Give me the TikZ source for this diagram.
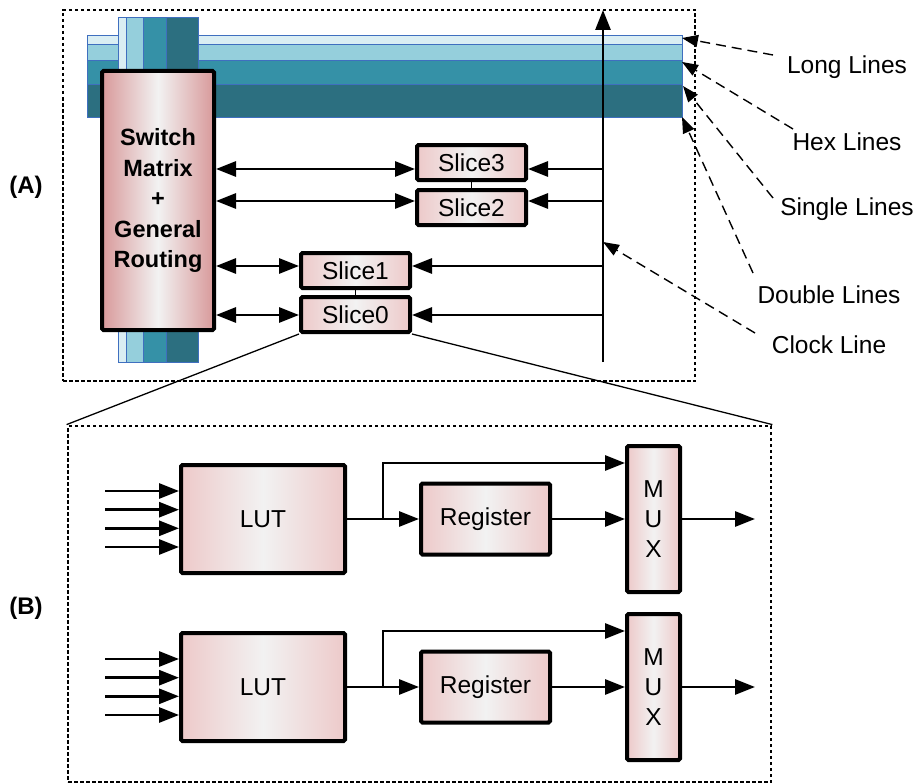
\documentclass[tikz,border=0pt]{standalone}
\usepackage{fontspec}
\setmainfont{Liberation Sans}
\usetikzlibrary{arrows.meta,positioning}

\definecolor{wireA}{HTML}{DAEEF3}
\definecolor{wireB}{HTML}{95CFDC}
\definecolor{wireC}{HTML}{3591A7}
\definecolor{wireD}{HTML}{2C6F80}
\definecolor{wireEdge}{HTML}{3F6FBF}
\definecolor{smEdge}{HTML}{D8999A}
\definecolor{blkEdge}{HTML}{EDC9C9}
\definecolor{blkMid}{HTML}{F2F2F2}

\tikzset{
  wire/.style={draw=wireEdge, line width=1pt},
  blk/.style={draw=black, line width=4pt, rounded corners=1.5pt, inner sep=0pt,
    left color=blkEdge, right color=blkEdge, middle color=blkMid,
    font=\fontsize{24.5}{28}\selectfont},
  smblk/.style={blk, left color=smEdge, right color=smEdge, middle color=blkMid},
  zone/.style={draw=black, line width=2.8pt, dash pattern=on 3.5pt off 2.5pt, inner sep=0pt},
  line/.style={line width=2.8pt},
  arr/.style={line, -{Triangle[length=20pt,width=15pt]}},
  dbl/.style={line, {Triangle[length=20pt,width=15pt]}-{Triangle[length=20pt,width=15pt]}},
  callout/.style={line width=1.4pt, dash pattern=on 10pt off 6pt, -{Triangle[length=16pt,width=12pt]}},
  lbl/.style={font=\fontsize{24.5}{28}\selectfont},
  tag/.style={font=\bfseries\fontsize{24}{28}\selectfont}
}

\begin{document}
\begin{tikzpicture}[x=1pt,y=-1pt]
    \useasboundingbox (0,0) rectangle (918,784);

    % dotted frames
    \node[zone, minimum width=632pt, minimum height=371pt] (zA) at (379,195.5) {};
    \node[zone, minimum width=703pt, minimum height=356pt] (zB) at (419.5,604) {};
    \node[tag] (tA) at (26,187) {(A)};
    \node[tag] (tB) at (26,608) {(B)};

    % routing wires (A)
    \filldraw[wire, fill=wireA] (87,36) rectangle (682,45);
    \filldraw[wire, fill=wireB] (87,45) rectangle (682,61);
    \filldraw[wire, fill=wireC] (87,61) rectangle (682,84);
    \filldraw[wire, fill=wireD] (87,84) rectangle (682,117);
    \filldraw[wire, fill=wireA] (118,18) rectangle (126,362);
    \filldraw[wire, fill=wireB] (126,18) rectangle (143,362);
    \filldraw[wire, fill=wireC] (143,18) rectangle (166,362);
    \filldraw[wire, fill=wireD] (166,18) rectangle (198,362);

    \node[smblk, minimum width=112pt, minimum height=259pt, align=center,
        font=\bfseries\fontsize{23.5}{30.5}\selectfont] (sm) at (158,200.5)
        {Switch\\Matrix\\+\\General\\Routing};

    % slices
    \node[blk, minimum width=109pt, minimum height=35pt] (s3) at (471.5,162.5) {Slice3};
    \node[blk, minimum width=109pt, minimum height=35pt] (s2) [below=6pt of s3] {Slice2};
    \node[blk, minimum width=109pt, minimum height=35pt] (s1) at (355.5,270.5) {Slice1};
    \node[blk, minimum width=109pt, minimum height=35pt] (s0) [below=5pt of s1] {Slice0};
    \draw[line width=1pt] (s3.south) -- (s2.north);
    \draw[line width=1pt] (s1.south) -- (s0.north);

    % clock line
    \coordinate (clkb) at (603,362);
    \coordinate (clkt) at (603,10);
    \draw[arr] (clkb) -- (clkt);

    \coordinate (r3) at (0,169);
    \coordinate (r2) at (0,201);
    \coordinate (r1) at (0,266);
    \coordinate (r0) at (0,315);
    \draw[dbl] (sm.east |- r3) -- (s3.west |- r3);
    \draw[dbl] (sm.east |- r2) -- (s2.west |- r2);
    \draw[dbl] (sm.east |- r1) -- (s1.west |- r1);
    \draw[dbl] (sm.east |- r0) -- (s0.west |- r0);
    \draw[arr] (clkb |- r3) -- (s3.east |- r3);
    \draw[arr] (clkb |- r2) -- (s2.east |- r2);
    \draw[arr] (clkb |- r1) -- (s1.east |- r1);
    \draw[arr] (clkb |- r0) -- (s0.east |- r0);

    % callouts
    \node[lbl] (lLong) at (847,67) {Long Lines};
    \node[lbl] (lHex) at (847,142) {Hex Lines};
    \node[lbl] (lSingle) at (847,209) {Single Lines};
    \node[lbl] (lDouble) at (829,295) {Double Lines};
    \node[lbl] (lClock) at (829,345) {Clock Line};
    \coordinate (aLong) at (773,55);
    \coordinate (aHex) at (793,129);
    \coordinate (aSingle) at (773,198);
    \coordinate (aDouble) at (753,273);
    \coordinate (aClock) at (755,333);
    \draw[callout] (aLong) -- (682,38);
    \draw[callout] (aHex) -- (682,62);
    \draw[callout] (aSingle) -- (683,86);
    \draw[callout] (aDouble) -- (682,117);
    \draw[callout] (aClock) -- (clkb |- 0,242);

    % zoom
    \draw[line width=1.3pt] (s0.south west) -- (zB.north west);
    \draw[line width=1.3pt] (s0.south east) -- (zB.north east);

    % slice detail (B), upper half
    \node[blk, minimum width=164pt, minimum height=108pt] (lut0) at (263,519) {LUT};
    \node[blk, minimum width=129pt, minimum height=71pt] (reg0) [right=72pt of lut0] {Register};
    \node[blk, minimum width=53pt, minimum height=146pt, align=center,
        font=\fontsize{24.5}{30}\selectfont] (mux0) [right=73pt of reg0] {M\\U\\X};
    \foreach \k in {28,9.3,-9.3,-28}
        \draw[arr] ([xshift=-74pt,yshift=\k pt]lut0.west) -- ([yshift=\k pt]lut0.west);
    \coordinate[right=36pt of lut0.east] (br0);
    \draw[line] (lut0.east) -- (br0);
    \draw[arr] (br0) -- (reg0.west);
    \draw[arr] (br0) |- ([yshift=56pt]mux0.west);
    \draw[arr] (reg0.east) -- (mux0.west |- reg0.east);
    \coordinate[right=73pt of mux0.east] (out0);
    \draw[arr] (mux0.east) -- (out0);

    % lower half
    \node[blk, minimum width=164pt, minimum height=108pt] (lut1) at (263,687) {LUT};
    \node[blk, minimum width=129pt, minimum height=71pt] (reg1) [right=72pt of lut1] {Register};
    \node[blk, minimum width=53pt, minimum height=146pt, align=center,
        font=\fontsize{24.5}{30}\selectfont] (mux1) [right=73pt of reg1] {M\\U\\X};
    \foreach \k in {28,9.3,-9.3,-28}
        \draw[arr] ([xshift=-74pt,yshift=\k pt]lut1.west) -- ([yshift=\k pt]lut1.west);
    \coordinate[right=36pt of lut1.east] (br1);
    \draw[line] (lut1.east) -- (br1);
    \draw[arr] (br1) -- (reg1.west);
    \draw[arr] (br1) |- ([yshift=56pt]mux1.west);
    \draw[arr] (reg1.east) -- (mux1.west |- reg1.east);
    \coordinate[right=73pt of mux1.east] (out1);
    \draw[arr] (mux1.east) -- (out1);
\end{tikzpicture}
\end{document}
